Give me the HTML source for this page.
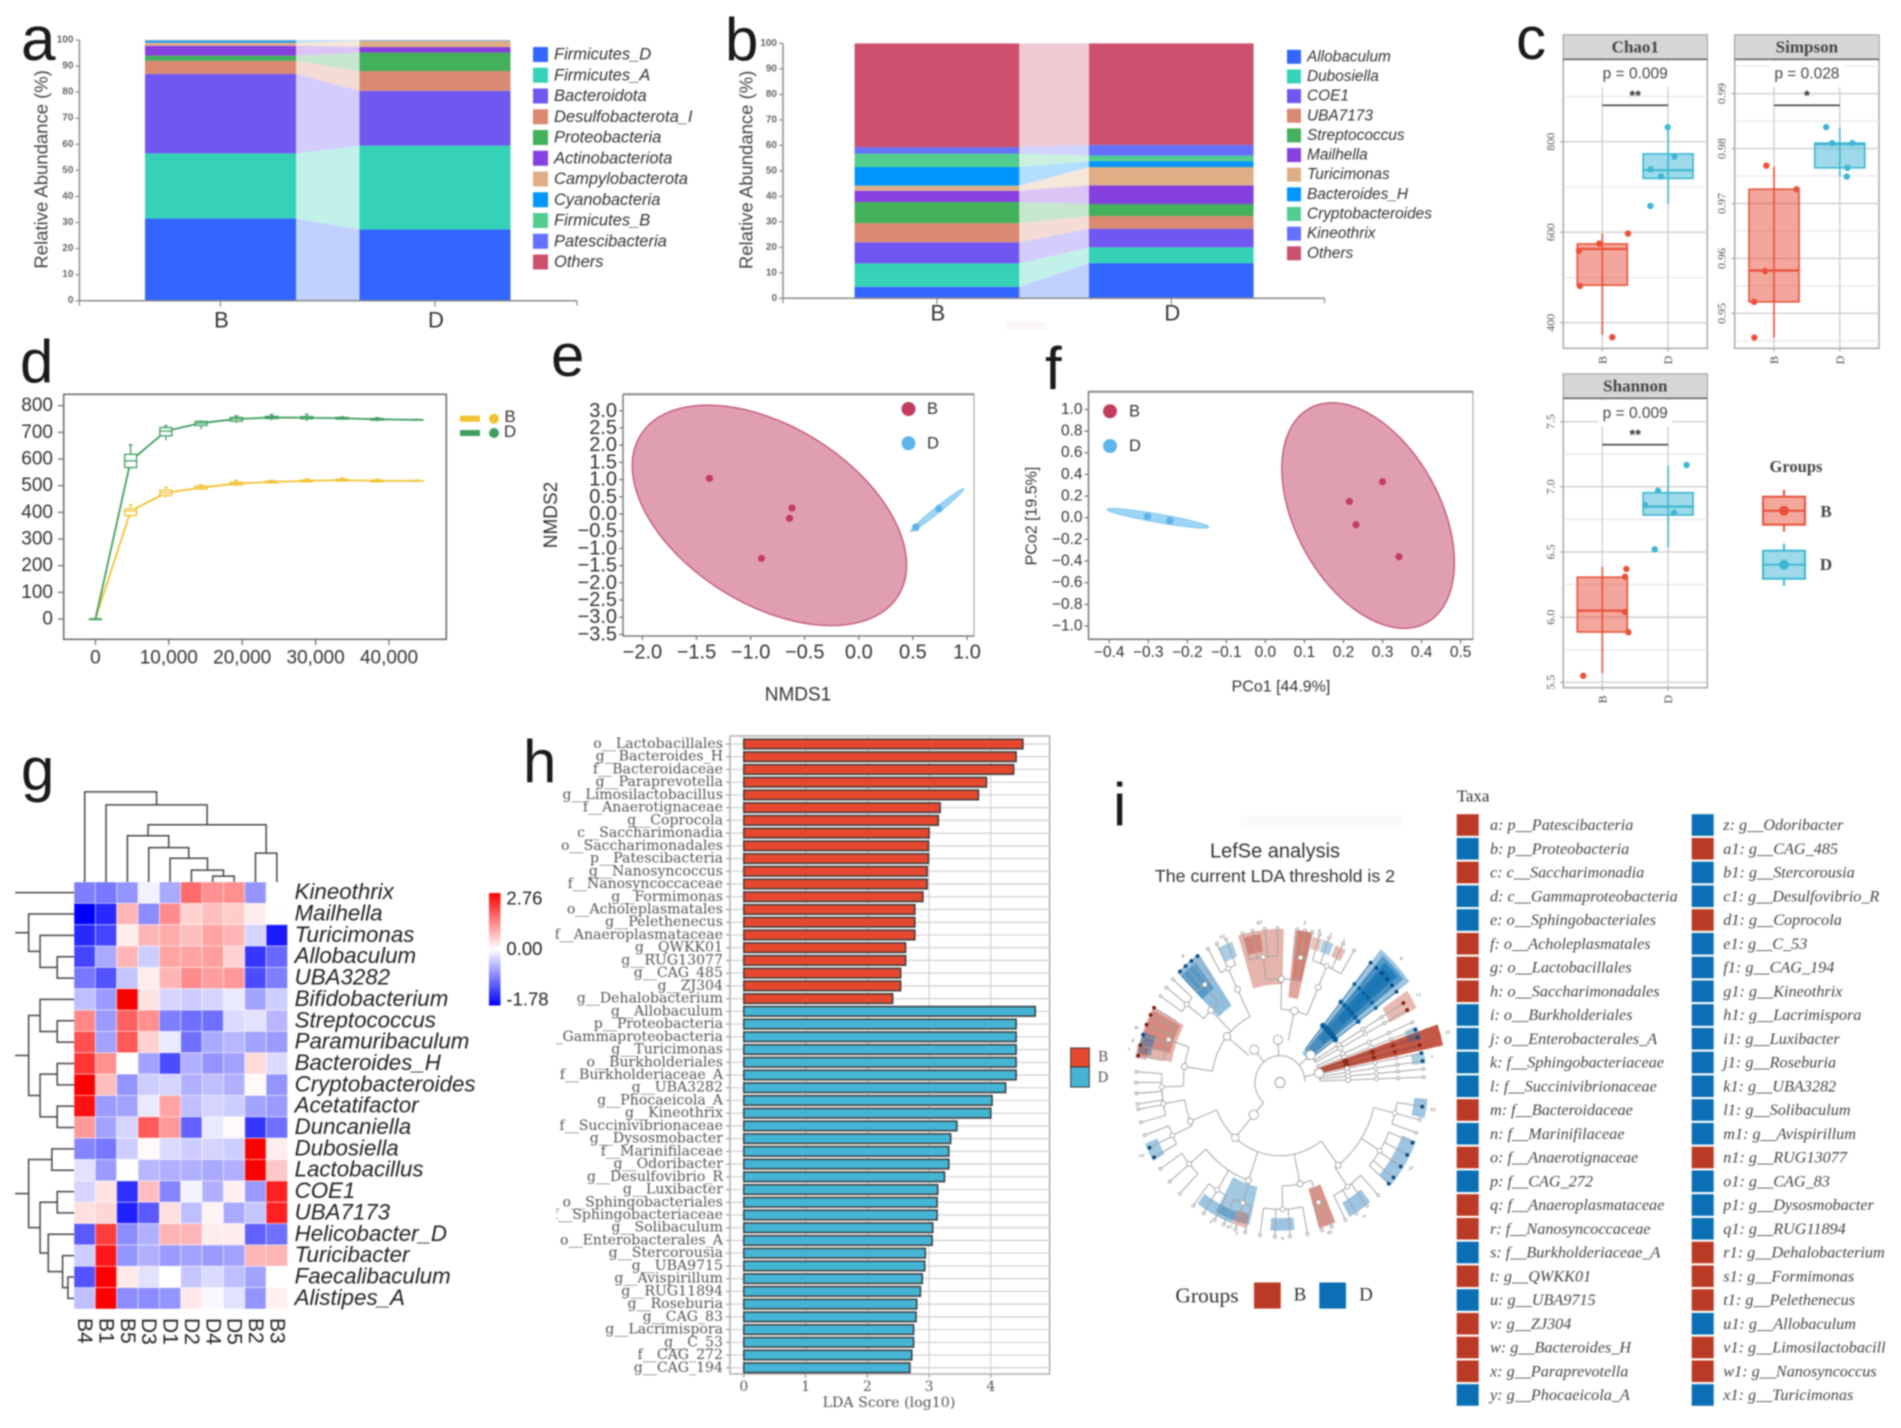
<!DOCTYPE html>
<html lang="en">
<head>
<meta charset="utf-8">
<title>Microbiome composition figure</title>
<style>
html,body{margin:0;padding:0;background:#fff;width:1901px;height:1428px;overflow:hidden}
svg{display:block;filter:blur(.7px)}
text{font-family:"Liberation Sans",sans-serif}
.panel-letter{font-size:60px;fill:#1a1a1a}
</style>
</head>
<body>
<svg id="fig" xmlns="http://www.w3.org/2000/svg" width="1901" height="1428" viewBox="0 0 1901 1428">
<defs>
<linearGradient id="cbar" x1="0" y1="0" x2="0" y2="1">
<stop offset="0" stop-color="#ff0000"/><stop offset=".5" stop-color="#ffffff"/><stop offset="1" stop-color="#0000ff"/>
</linearGradient>
<clipPath id="clip-h"><rect x="556" y="730" width="180" height="650"/></clipPath>
<clipPath id="clip-taxa"><rect x="1440" y="790" width="445" height="630"/></clipPath>
</defs>
<rect width="1901" height="1428" fill="#fff"/>
<rect x="1006" y="322" width="41" height="8" fill="#fbf7f7"/>
<rect x="1240" y="815" width="163" height="12" fill="#fbfaf9"/>
<text class="panel-letter" x="21" y="60" style="font-size:62px">a</text>
<text class="panel-letter" x="725" y="60">b</text>
<text class="panel-letter" x="1516" y="59">c</text>
<text class="panel-letter" x="20" y="382">d</text>
<text class="panel-letter" x="551" y="376">e</text>
<text class="panel-letter" x="1045" y="389">f</text>
<text class="panel-letter" x="21" y="790">g</text>
<text class="panel-letter" x="523" y="782">h</text>
<text class="panel-letter" x="1113" y="825">i</text>
<g id="panel-a"></g>
<g id="panel-b"></g>
<g id="panel-c"></g>
<g id="panel-d"></g>
<g id="panel-e"></g>
<g id="panel-f"></g>
<g id="panel-g">
<rect x="489" y="893" width="11.5" height="112.5" fill="url(#cbar)"/>
</g>
<g id="panel-h"></g>
<g id="panel-i"></g>
<g id="panel-taxa" clip-path="url(#clip-taxa)"></g>
</svg>
<script>
/* ---------- panel a data ---------- */
const stackColors = ['#3366ff','#36d2b8','#7057f0','#d98a70','#43b05c','#8740e0','#dfae85','#0096ff','#52cc8f','#6670ff','#cc506d'];
const stackCats = ['B','D'];
const stackTicks = [0,10,20,30,40,50,60,70,80,90,100];
const aTaxa = ['Firmicutes_D','Firmicutes_A','Bacteroidota','Desulfobacterota_I','Proteobacteria','Actinobacteriota','Campylobacterota','Cyanobacteria','Firmicutes_B','Patescibacteria','Others'];
const aB = [31.5,25,30.5,5,2,3.8,1.2,0.7,0.1,0.1,0.1];
const aD = [27.3,32.2,21,7.6,7.1,2.1,2.4,0.1,0.1,0.1,0.0];
/* ---------- panel b data ---------- */
const bTaxa = ['Allobaculum','Dubosiella','COE1','UBA7173','Streptococcus','Mailhella','Turicimonas','Bacteroides_H','Cryptobacteroides','Kineothrix','Others'];
const bB = [4.5,9.2,8.3,7.5,8.3,4.4,2,7.3,5.3,2.5,40.7];
const bD = [13.8,6.2,7.3,5,4.7,7.3,7.2,2.3,2.2,4.2,39.8];
/* ---------- panel c data: [q1, median, q3, lowWhisker, highWhisker] ---------- */
const chaoBoxB = [483,563,574,373,597];
const chaoBoxD = [719,737,773,662,832];
const chaoPtsB = [597,575,559,481,368];
const chaoPtsD = [832,767,739,723,658];
const chaoJitB = [0.39,-0.046,-0.355,-0.34,0.152];
const chaoJitD = [0.995,1.096,0.736,0.893,0.731];
const chaoTicks = [400,600,800];
const simpBoxB = [0.9521,0.9578,0.9726,0.9456,0.9767];
const simpBoxD = [0.9765,0.9808,0.981,0.9749,0.9839];
const simpPtsB = [0.9769,0.9726,0.9577,0.9521,0.9456];
const simpPtsD = [0.9839,0.981,0.981,0.9765,0.9749];
const simpJitB = [-0.116,0.343,-0.136,-0.303,-0.298];
const simpJitD = [0.793,0.884,1.192,1.116,1.106];
const simpTicks = [0.95,0.96,0.97,0.98,0.99];
const shanBoxB = [5.886,6.05,6.306,5.57,6.387];
const shanBoxD = [6.784,6.848,6.955,6.536,7.162];
const shanPtsB = [6.37,6.31,6.04,5.884,5.55];
const shanPtsD = [7.167,6.97,6.86,6.8,6.52];
const shanJitB = [0.365,0.345,0.345,0.396,-0.29];
const shanJitD = [1.28,0.848,0.65,1.09,0.797];
const shanTicks = [5.5,6,6.5,7,7.5];
/* ---------- panel d data ---------- */
const rareDepth = [0,4800,9600,14400,19200,24000,28800,33600,38400,43800];
const rareBMed = [0,405,473,493,508,514,518,521,518,518];
const rareBQ1 = [0,388,463,488,503,511,515,518,515,517];
const rareBQ3 = [0,413,483,499,513,517,521,524,521,519];
const rareBLo = [0,384,456,483,498,508,511,514,511,515];
const rareBHi = [0,428,494,503,520,520,525,529,524,521];
const rareDMed = [0,593,705,735,750,756,755,753,749,747];
const rareDQ1 = [0,568,687,726,742,752,751,750,746,746];
const rareDQ3 = [0,618,718,741,756,760,759,756,752,748];
const rareDLo = [0,565,670,712,735,745,742,749,742,745];
const rareDHi = [0,653,725,742,762,767,768,758,755,749];
const rareXTicks = [0,10000,20000,30000,40000];
const rareYTicks = [0,100,200,300,400,500,600,700,800];
/* ---------- panel e data ---------- */
const nmdsBx = [-1.38,-0.617,-0.64,-0.9];
const nmdsBy = [1.037,0.174,-0.126,-1.29];
const nmdsDx = [0.74,0.526];
const nmdsDy = [0.155,-0.388];
const nmdsXTicks = [-2,-1.5,-1,-0.5,0,0.5,1];
const nmdsYTicks = [3,2.5,2,1.5,1,0.5,0,-0.5,-1,-1.5,-2,-2.5,-3,-3.5];
/* ellipse: centre x, centre y, half-extent x, half-extent y, correlation */
const nmdsEllB = [-0.826,-0.04,1.268,3.206,-0.45];
const nmdsEllD = [0.724,0.11,0.245,0.62,0.985];
/* ---------- panel f data ---------- */
const pcoBx = [0.30,0.215,0.232,0.342];
const pcoBy = [0.332,0.15,-0.065,-0.36];
const pcoDx = [-0.302,-0.245];
const pcoDy = [0.01,-0.028];
const pcoXTicks = [-0.4,-0.3,-0.2,-0.1,0,0.1,0.2,0.3,0.4,0.5];
const pcoYTicks = [1,0.8,0.6,0.4,0.2,0,-0.2,-0.4,-0.6,-0.8,-1];
const pcoEllB = [0.263,0.02,0.221,1.0415,-0.417];
const pcoEllD = [-0.275,-0.005,0.13,0.09,-0.9];
/* ---------- panel g data ---------- */
const heatCols = ['B4','B1','B5','D3','D1','D2','D4','D5','B2','B3'];
const heatRows = ['Kineothrix','Mailhella','Turicimonas','Allobaculum','UBA3282','Bifidobacterium','Streptococcus','Paramuribaculum','Bacteroides_H','Cryptobacteroides','Acetatifactor','Duncaniella','Dubosiella','Lactobacillus','COE1','UBA7173','Helicobacter_D','Turicibacter','Faecalibaculum','Alistipes_A'];
const heatVals = [
[-0.9,-0.95,-0.75,-0.1,-0.6,1.6,1.2,1.2,-0.75,0.0],
[-1.78,-1.5,0.8,-0.8,1.25,0.5,0.7,0.55,0.2,0.02],
[-1.5,-1.3,0.2,0.8,0.9,0.7,1.0,0.8,-0.3,-1.6],
[-1.3,-0.6,0.8,-0.35,1.0,1.0,1.05,0.5,-1.4,-1.05],
[-0.95,-1.2,-0.4,0.2,0.8,1.25,1.05,1.1,-1.25,-0.9],
[-0.45,-0.7,2.76,0.3,-0.3,-0.35,-0.3,-0.15,-0.65,-0.35],
[1.3,-0.7,1.7,1.2,-0.9,-1.0,-1.0,-0.25,-0.2,-0.5],
[1.9,-0.65,1.8,0.5,-0.15,-1.0,-0.6,-0.5,-0.65,-0.7],
[2.2,1.2,0.0,-0.65,-1.25,-0.55,-0.75,-0.65,0.4,-0.25],
[2.76,0.7,-0.75,-0.35,-0.3,-0.55,-0.45,-0.55,0.06,-0.75],
[2.6,-0.7,-0.65,-0.15,1.0,-0.45,-0.3,-0.35,-0.65,-0.7],
[1.1,-0.65,-0.3,1.8,1.1,-1.1,-0.15,0.05,-1.4,-1.0],
[-0.85,-0.95,-0.35,0.05,-0.25,-0.35,-0.3,-0.35,2.76,0.2],
[-0.2,-0.7,0.0,-0.5,-0.55,-0.55,-0.6,-0.55,2.76,0.6],
[-0.3,0.3,-1.45,0.7,-0.85,-0.08,-0.55,0.15,-0.7,2.4],
[0.35,0.45,-1.55,-1.15,0.35,-0.45,0.12,-0.6,-0.4,2.4],
[-1.15,2.1,-0.8,-0.55,0.8,0.8,0.2,0.2,-1.1,-1.0],
[-0.35,2.5,-0.75,-0.55,-0.7,-0.65,-0.7,-0.65,0.8,0.8],
[-1.2,2.76,0.25,-0.2,0.0,-0.4,-0.25,-0.45,-0.65,0.0],
[-0.45,2.76,-0.8,-0.8,-0.75,0.25,-0.05,-0.2,-0.75,0.15]
];
/* dendrograms: [merge height, left child, right child]; leaves are indices */
const colTree = [228,0,[195,1,[145,[117,2,[87,3,[60,4,[30,5,[15,6,7]]]]],[73,8,9]]]];
const rowTrees = [0,[127,1,[95,2,[47,3,4]]],[127,[95,5,[47,6,7]],[95,[47,8,9],[47,10,11]]],[127,[62,12,13],[95,[47,14,15],[72,16,[32,17,[17,18,19]]]]]];
/* ---------- panel h data ---------- */
const ldaLabelsB = ['o__Lactobacillales','g__Bacteroides_H','f__Bacteroidaceae','g__Paraprevotella','g__Limosilactobacillus','f__Anaerotignaceae','g__Coprocola','c__Saccharimonadia','o__Saccharimonadales','p__Patescibacteria','g__Nanosyncoccus','f__Nanosyncoccaceae','g__Formimonas','o__Acholeplasmatales','g__Pelethenecus','f__Anaeroplasmataceae','g__QWKK01','g__RUG13077','g__CAG_485','g__ZJ304','g__Dehalobacterium'];
const ldaValuesB = [4.52,4.41,4.37,3.93,3.80,3.18,3.15,3.0,2.99,2.99,2.97,2.97,2.90,2.77,2.77,2.77,2.62,2.62,2.54,2.54,2.41];
const ldaLabelsD = ['g__Allobaculum','p__Proteobacteria','c__Gammaproteobacteria','g__Turicimonas','o__Burkholderiales','f__Burkholderiaceae_A','g__UBA3282','g__Phocaeicola_A','g__Kineothrix','f__Succinivibrionaceae','g__Dysosmobacter','f__Marinifilaceae','g__Odoribacter','g__Desulfovibrio_R','g__Luxibacter','o__Sphingobacteriales','f__Sphingobacteriaceae','g__Solibaculum','o__Enterobacterales_A','g__Stercorousia','g__UBA9715','g__Avispirillum','g__RUG11894','g__Roseburia','g__CAG_83','g__Lacrimispora','g__C_53','f__CAG_272','g__CAG_194'];
const ldaValuesD = [4.72,4.41,4.41,4.41,4.41,4.41,4.24,4.02,4.0,3.45,3.35,3.32,3.32,3.25,3.14,3.13,3.13,3.06,3.05,2.94,2.93,2.89,2.86,2.80,2.79,2.75,2.75,2.72,2.69];
const ldaTicks = [0,1,2,3,4];
/* ---------- panel i data ---------- */
/* leaf angles in degrees clockwise from north, nested by taxonomic level */
const cladeLeft = {a:-40,c:[[[[-98,-94,-90,-86],[-80,-76,-72,-68,-64,-61]],[[-56,-52,-48],[-44,-41,-38,-35]],[[-30,-26,-22]]]]};
const cladeTop = {a:-3,c:[[[[-15,-11,-6,-1],[7,10,13]],[[16,20,26,31]]]]};
const cladeFanA = [39,42,45,48,51,54,59,62];
const cladeFanB = [67,70,73,76,79,82,85,88];
const cladeBottom = {a:221,d:1,c:[{a:143,d:2,c:[[99,104,109],[113,118,123,128,131],[137,143,148,153]]},{a:168,d:2,c:[[159,163],[169,176,182,188]]},{a:199,d:2,c:[[194,198,203],[207,212,217],[224,230,236]]},{a:248,d:2,c:[[241,245,250],[255,260,266]]}]};
/* highlighted clades: start angle, end angle, inner ring, outer ring, group, strength, tag */
const cladeHighlights = [
[39,54,105,480,'D',.4,'b'],[41,52,130,470,'D',.5,''],[43,50,170,460,'D',.6,''],[44,49,250,445,'D',.6,''],
[71,78,110,500,'B',.85,'v1'],[56,63,370,460,'B',.35,'c1'],[69,74,400,440,'D',.35,'l'],[79,83,400,440,'D',.35,'s'],
[-17,1.5,275,430,'B',.38,'g1'],[-15,-8,370,420,'B',.4,''],[6,13,240,430,'B',.45,'f'],[7,13,290,430,'B',.35,''],
[13.5,17.5,385,420,'B',.3,'a'],[18,22.5,385,420,'D',.35,'i'],[23.5,28,385,420,'B',.35,'j'],
[-26,-20,375,420,'D',.35,'e1'],[-45,-34,260,435,'D',.45,'k'],[-45,-37,330,420,'D',.45,''],
[-80,-61,330,435,'B',.38,'m'],[-76,-62,340,430,'B',.35,''],[-79,-71,395,435,'D',.45,'q'],[-81,-76,405,440,'B',.35,'t'],
[96,103,405,445,'D',.4,'k1'],[112,131,395,440,'D',.4,'j1'],[141,151,385,430,'D',.4,'n'],[157,164,310,425,'B',.55,'d1'],
[174,184,380,415,'D',.4,'u'],[193,208,300,410,'D',.38,'p1'],[194,200,380,420,'B',.35,'y'],[200,216,385,420,'D',.4,'z'],[240,247,400,440,'D',.38,'o1']
];
/* ---------- taxa legend data ---------- */
const taxaCol1 = ['a: p__Patescibacteria','b: p__Proteobacteria','c: c__Saccharimonadia','d: c__Gammaproteobacteria','e: o__Sphingobacteriales','f: o__Acholeplasmatales','g: o__Lactobacillales','h: o__Saccharimonadales','i: o__Burkholderiales','j: o__Enterobacterales_A','k: f__Sphingobacteriaceae','l: f__Succinivibrionaceae','m: f__Bacteroidaceae','n: f__Marinifilaceae','o: f__Anaerotignaceae','p: f__CAG_272','q: f__Anaeroplasmataceae','r: f__Nanosyncoccaceae','s: f__Burkholderiaceae_A','t: g__QWKK01','u: g__UBA9715','v: g__ZJ304','w: g__Bacteroides_H','x: g__Paraprevotella','y: g__Phocaeicola_A'];
const taxaCol1Group = 'BDBDDBBBDDDDBDBDBBDBDBBBD';
const taxaCol2 = ['z: g__Odoribacter','a1: g__CAG_485','b1: g__Stercorousia','c1: g__Desulfovibrio_R','d1: g__Coprocola','e1: g__C_53','f1: g__CAG_194','g1: g__Kineothrix','h1: g__Lacrimispora','i1: g__Luxibacter','j1: g__Roseburia','k1: g__UBA3282','l1: g__Solibaculum','m1: g__Avispirillum','n1: g__RUG13077','o1: g__CAG_83','p1: g__Dysosmobacter','q1: g__RUG11894','r1: g__Dehalobacterium','s1: g__Formimonas','t1: g__Pelethenecus','u1: g__Allobaculum','v1: g__Limosilactobacillus','w1: g__Nanosyncoccus','x1: g__Turicimonas'];
const taxaCol2Group = 'DBDDBDDDDDDDDDBDDDBBBDBBD';

/* ---------- primitives ---------- */
const NS = 'http://www.w3.org/2000/svg';
const SERIF = '"Liberation Serif",serif';
const DJSERIF = '"DejaVu Serif","Liberation Serif",serif';
function $(id){return document.getElementById(id);}
function shape(p,name,tag,attrs){
  const e = document.createElementNS(NS,tag);
  for(const k in attrs) e.setAttribute(k,attrs[k]);
  
  
  p.appendChild(e);
  return e;
}
function line(p,name,x1,y1,x2,y2,stroke,w){
  return shape(p,name,'line',{x1,y1,x2,y2,stroke,'stroke-width':w});
}
function label(p,name,x,y,s,size,o){
  o = o || {};
  const a = {x,y,'font-size':size,fill:o.fill||'#333','text-anchor':o.anchor||'middle','dominant-baseline':'central'};
  if(o.family) a.style = 'font-family:'+o.family;
  if(o.italic) a['font-style'] = 'italic';
  if(o.weight) a['font-weight'] = o.weight;
  if(o.rotate) a.transform = 'rotate('+o.rotate+' '+x+' '+y+')';
  if(o.clip) a['clip-path'] = 'url(#'+o.clip+')';
  const t = shape(p,name,'text',a);
  t.textContent = s;
  return t;
}

/* ---------- stacked bars ---------- */
function drawStack(g,prefix,taxa,vals,geo){
  const y = v => geo.y0 - v*(geo.y0-geo.y100)/100;
  const bx = i => geo.left + i*geo.step;
  /* ribbons */
  let cb = 0, cd = 0;
  taxa.forEach((t,i)=>{
    const x1 = bx(0)+geo.w, x2 = bx(1);
    const pts = [[x1,y(cb)],[x2,y(cd)],[x2,y(cd+vals[1][i])],[x1,y(cb+vals[0][i])]].map(q=>q.join(',')).join(' ');
    shape(g,prefix+'-ribbon-'+t,'polygon',{points:pts,fill:stackColors[i],opacity:.3});
    cb += vals[0][i]; cd += vals[1][i];
  });
  vals.forEach((series,c)=>{
    let cum = 0;
    series.forEach((v,i)=>{
      shape(g,prefix+'-bar-'+stackCats[c]+'-'+taxa[i],'rect',{x:bx(c),y:y(cum+v),width:geo.w,height:Math.max(0,y(cum)-y(cum+v)),fill:stackColors[i]});
      cum += v;
    });
  });
  line(g,prefix+'-y-axis',geo.ax,geo.y100,geo.ax,geo.y0,'#8a8a8a',1.5);
  line(g,prefix+'-x-axis',geo.ax,geo.y0,geo.axEnd,geo.y0,'#8a8a8a',1.5);
  line(g,prefix+'-x-axis-end-tick',geo.axEnd,geo.y0,geo.axEnd,geo.y0+5,'#8a8a8a',1.2);
  line(g,prefix+'-x-axis-start-tick',geo.ax,geo.y0,geo.ax,geo.y0+5,'#8a8a8a',1.2);
  stackTicks.forEach(t=>{
    line(g,prefix+'-y-tick-'+t,geo.ax-4,y(t),geo.ax,y(t),'#8a8a8a',1.2);
    label(g,prefix+'-y-tick-label-'+t,geo.ax-6,y(t),String(t),10,{anchor:'end',fill:'#666',weight:'bold'});
  });
  stackCats.forEach((c,i)=>{
    const tx = bx(i)+geo.w/2;
    line(g,prefix+'-x-tick-'+c,tx,geo.y0,tx,geo.y0+6,'#8a8a8a',1.2);
    label(g,prefix+'-x-tick-label-'+c,tx+1,geo.xLab,c,22,{fill:'#333'});
  });
  label(g,prefix+'-y-axis-title',geo.titleX,(geo.y0+geo.y100)/2-1,'Relative Abundance (%)',18.5,{rotate:-90,fill:'#444'});
  taxa.forEach((t,i)=>{
    const ly = geo.legY + i*geo.legStep;
    shape(g,prefix+'-legend-swatch-'+t,'rect',{x:geo.legX,y:ly-geo.swH/2,width:geo.swW,height:geo.swH,fill:stackColors[i]});
    label(g,prefix+'-legend-label-'+t,geo.legX+geo.swW+6,ly,t,geo.legFont,{anchor:'start',italic:true});
  });
}
drawStack($('panel-a'),'a',aTaxa,[aB,aD],{y0:300.7,y100:40,left:145,step:214.5,w:151,ax:79.4,axEnd:577,xLab:320,titleX:41,legX:533,legY:54.5,legStep:20.75,swW:15,swH:15,legFont:16.5});
drawStack($('panel-b'),'b',bTaxa,[bB,bD],{y0:298.3,y100:43.4,left:854.6,step:234.4,w:164.6,ax:783,axEnd:1324.5,xLab:313,titleX:746,legX:1287,legY:56.8,legStep:19.65,swW:14,swH:14,legFont:15.4});

/* ---------- boxplots ---------- */
const RED = '#e8503a', BLUE = '#3eb6d3';
function drawBoxPanel(g,key,cfg,boxB,ptsB,jitB,boxD,ptsD,jitD){
  const xOf = u => cfg.xB + u*65.8;
  const yOf = cfg.yOf;
  /* strip & frame */
  shape(g,key+'-panel-frame','rect',{x:cfg.x0,y:cfg.stripTop,width:cfg.x1-cfg.x0,height:cfg.bottom-cfg.stripTop,fill:'#fff',stroke:'#a8a8a8','stroke-width':1.5});
  cfg.minor.forEach(v=>line(g,key+'-minor-grid-'+v,cfg.x0,yOf(v),cfg.x1,yOf(v),'#e6e6e6',1.2));
  cfg.ticks.forEach(v=>line(g,key+'-major-grid-'+v,cfg.x0,yOf(v),cfg.x1,yOf(v),'#cfcfcf',1.4));
  [0,1].forEach(u=>line(g,key+'-vertical-grid-'+u,xOf(u),cfg.stripBottom,xOf(u),cfg.bottom,'#cfcfcf',1.4));
  shape(g,key+'-p-value-background','rect',{x:xOf(.5)-37,y:cfg.pY-13,width:74,height:26,fill:'#fff'});
  shape(g,key+'-strip','rect',{x:cfg.x0,y:cfg.stripTop,width:cfg.x1-cfg.x0,height:cfg.stripBottom-cfg.stripTop,fill:'#d6d6d6',stroke:'#a8a8a8','stroke-width':1});
  line(g,key+'-strip-underline',cfg.x0,cfg.stripBottom,cfg.x1,cfg.stripBottom,'#666',1.6);
  label(g,key+'-strip-title',(cfg.x0+cfg.x1)/2,(cfg.stripTop+cfg.stripBottom)/2,cfg.title,17,{family:SERIF,weight:'bold',fill:'#444'});
  label(g,key+'-p-value',xOf(.5),cfg.pY,cfg.p,15.5,{fill:'#444'});
  label(g,key+'-significance-stars',xOf(.5),cfg.starY+3,cfg.stars,15,{fill:'#333',weight:'bold'});
  line(g,key+'-significance-bar',xOf(0),cfg.barY,xOf(1),cfg.barY,'#444',1.6);
  const draw = (name,u,box,pts,jit,col)=>{
    const [q1,med,q3,lo,hi] = box, cx = xOf(u);
    line(g,key+'-whisker-'+name,cx,yOf(lo),cx,yOf(hi),col,1.6);
    shape(g,key+'-box-'+name,'rect',{x:cx-25,y:yOf(q3),width:50,height:yOf(q1)-yOf(q3),fill:col,'fill-opacity':.5,stroke:col,'stroke-width':1.6});
    line(g,key+'-median-'+name,cx-25,yOf(med),cx+25,yOf(med),col,2.2);
    pts.forEach((v,i)=>shape(g,key+'-point-'+name+'-'+i,'circle',{cx:xOf(jit[i]),cy:yOf(v),r:3.2,fill:col}));
  };
  draw('B',0,boxB,ptsB,jitB,RED);
  draw('D',1,boxD,ptsD,jitD,BLUE);
  cfg.ticks.forEach(v=>{
    line(g,key+'-y-tick-'+v,cfg.x0-3,yOf(v),cfg.x0,yOf(v),'#888',1);
    label(g,key+'-y-tick-label-'+v,cfg.x0-13,yOf(v),cfg.fmt(v),12,{rotate:-90,family:SERIF,fill:'#555'});
  });
  ['B','D'].forEach((c,u)=>{
    line(g,key+'-x-tick-'+c,xOf(u),cfg.bottom,xOf(u),cfg.bottom+3,'#888',1);
    label(g,key+'-x-tick-label-'+c,xOf(u),cfg.xLab,c,12,{rotate:-90,family:SERIF,fill:'#444'});
  });
}
const cg = $('panel-c');
drawBoxPanel(cg,'chao1',{title:'Chao1',x0:1563.3,x1:1707.3,stripTop:35,stripBottom:59.3,bottom:348.3,xB:1602.3,yOf:v=>141.7+(800-v)*0.4525,ticks:chaoTicks,minor:[500,700,900],fmt:v=>String(v),p:'p = 0.009',stars:'**',pY:74,starY:93,barY:105.3,xLab:360},chaoBoxB,chaoPtsB,chaoJitB,chaoBoxD,chaoPtsD,chaoJitD);
drawBoxPanel(cg,'simpson',{title:'Simpson',x0:1734.7,x1:1879,stripTop:35,stripBottom:59.3,bottom:348.3,xB:1774,yOf:v=>93.67+(0.99-v)*5492,ticks:simpTicks,minor:[0.945,0.955,0.965,0.975,0.985,0.995],fmt:v=>v.toFixed(2),p:'p = 0.028',stars:'*',pY:74,starY:93,barY:105.3,xLab:360},simpBoxB,simpPtsB,simpJitB,simpBoxD,simpPtsD,simpJitD);
drawBoxPanel(cg,'shannon',{title:'Shannon',x0:1563.3,x1:1707.3,stripTop:374,stripBottom:398.3,bottom:687.7,xB:1602.3,yOf:v=>421.67+(7.5-v)*130.3,ticks:shanTicks,minor:[5.75,6.25,6.75,7.25],fmt:v=>v.toFixed(1),p:'p = 0.009',stars:'**',pY:413.3,starY:432,barY:444.7,xLab:699.3},shanBoxB,shanPtsB,shanJitB,shanBoxD,shanPtsD,shanJitD);
/* groups legend */
label(cg,'groups-legend-title',1796,466.7,'Groups',16.5,{family:SERIF,weight:'bold',fill:'#444'});
[['B',RED,496.7,511.7],['D',BLUE,550.7,564.3]].forEach(([n,col,top,ly])=>{
  line(cg,'groups-legend-whisker-'+n,1784,top-7,1784,top+35,col,2);
  shape(cg,'groups-legend-box-'+n,'rect',{x:1763,y:top,width:42,height:28,fill:'#fff'});
  shape(cg,'groups-legend-box-fill-'+n,'rect',{x:1763,y:top,width:42,height:28,fill:col,'fill-opacity':.5,stroke:col,'stroke-width':2});
  line(cg,'groups-legend-median-'+n,1763,top+14,1805,top+14,col,2);
  shape(cg,'groups-legend-dot-'+n,'circle',{cx:1784,cy:top+14,r:5,fill:col});
  label(cg,'groups-legend-label-'+n,1826,ly,n,17,{family:SERIF,weight:'bold',fill:'#444'});
});

/* ---------- panel d ---------- */
(function(){
  const g = $('panel-d');
  const sx = v => 95.4 + v*0.00734;
  const sy = v => 619 - v*0.2666;
  shape(g,'rarefaction-plot-frame','rect',{x:63.7,y:394.3,width:382.6,height:245,fill:'#fff',stroke:'#666','stroke-width':1.5});
  rareYTicks.forEach(t=>{
    line(g,'rarefaction-y-tick-'+t,57.8,sy(t),63.7,sy(t),'#666',1.2);
    label(g,'rarefaction-y-tick-label-'+t,53,sy(t),String(t),19,{anchor:'end'});
  });
  rareXTicks.forEach(t=>{
    line(g,'rarefaction-x-tick-'+t,sx(t),639.3,sx(t),645,'#666',1.2);
    label(g,'rarefaction-x-tick-label-'+t,sx(t),658,t.toLocaleString('en-US'),19);
  });
  const series = (name,col,med,q1,q3,lo,hi)=>{
    shape(g,'rarefaction-line-'+name,'polyline',{points:rareDepth.map((d,i)=>sx(d)+','+sy(med[i])).join(' '),fill:'none',stroke:col,'stroke-width':1.8});
    rareDepth.forEach((d,i)=>{
      const x = sx(d);
      line(g,'rarefaction-whisker-'+name+'-'+d,x,sy(lo[i]),x,sy(hi[i]),col,1.3);
      line(g,'rarefaction-cap-'+name+'-'+d,x-2,sy(hi[i]),x+2,sy(hi[i]),col,1.3);
      shape(g,'rarefaction-box-'+name+'-'+d,'rect',{x:x-6,y:sy(q3[i]),width:12,height:Math.max(.5,sy(q1[i])-sy(q3[i])),fill:'#fff','fill-opacity':d===0?0:1,stroke:col,'stroke-width':1.3});
      line(g,'rarefaction-median-'+name+'-'+d,x-6,sy(med[i]),x+6,sy(med[i]),col,1.3);
    });
  };
  series('B','#f2c230',rareBMed,rareBQ1,rareBQ3,rareBLo,rareBHi);
  series('D','#3f9e5f',rareDMed,rareDQ1,rareDQ3,rareDLo,rareDHi);
  [['B','#f2c230',418.7,416.7],['D','#3f9e5f',433,431.5]].forEach(([n,col,y,ly])=>{
    shape(g,'rarefaction-legend-line-'+n,'rect',{x:460,y:y-3,width:20,height:6,fill:col});
    shape(g,'rarefaction-legend-dot-'+n,'circle',{cx:494,cy:y,r:5,fill:col});
    label(g,'rarefaction-legend-label-'+n,510,ly,n,17);
  });
})();

/* ---------- ordination panels ---------- */
function ellipsePath(e,sx,sy){
  const [cx,cy,rx,ry,rho] = e, k = Math.sqrt(1-rho*rho);
  let d = '';
  for(let i=0;i<=90;i++){
    const t = i/90*2*Math.PI;
    d += (i?'L':'M')+sx(cx+rx*Math.cos(t)).toFixed(2)+' '+sy(cy+ry*(rho*Math.cos(t)+k*Math.sin(t))).toFixed(2);
  }
  return d+'Z';
}
function fmtNeg(v,dp){return (v<0?'\u2212':'')+Math.abs(v).toFixed(dp);}
function drawOrd(g,key,c){
  shape(g,key+'-plot-frame','rect',{x:c.l,y:c.t,width:c.r-c.l,height:c.b-c.t,fill:'#fff',stroke:'#999','stroke-width':1});
  line(g,key+'-frame-top',c.l,c.t,c.r,c.t,'#8a8a8a',2);
  line(g,key+'-frame-left',c.l,c.t,c.l,c.b,'#666',1.3);
  line(g,key+'-frame-bottom',c.l,c.b,c.r,c.b,'#666',1.3);
  shape(g,key+'-ellipse-B','path',{d:ellipsePath(c.ellB,c.sx,c.sy),fill:'#e09fb0',stroke:'#c0506e','stroke-width':1.3});
  shape(g,key+'-ellipse-D','path',{d:ellipsePath(c.ellD,c.sx,c.sy),fill:'#9ed5f5',stroke:'#7cc4ee','stroke-width':1});
  c.bx.forEach((v,i)=>shape(g,key+'-point-B-'+i,'circle',{cx:c.sx(v),cy:c.sy(c.by[i]),r:3.6,fill:'#c23c5f'}));
  c.dx.forEach((v,i)=>shape(g,key+'-point-D-'+i,'circle',{cx:c.sx(v),cy:c.sy(c.dy[i]),r:3.8,fill:'#5cb4ea'}));
  c.yt.forEach(t=>{
    line(g,key+'-y-tick-'+t,c.l-4,c.sy(t),c.l,c.sy(t),'#666',1.1);
    label(g,key+'-y-tick-label-'+t,c.l-6,c.sy(t),fmtNeg(t,1),c.font,{anchor:'end',fill:'#333'});
  });
  c.xt.forEach(t=>{
    line(g,key+'-x-tick-'+t,c.sx(t),c.b,c.sx(t),c.b+4,'#666',1.1);
    label(g,key+'-x-tick-label-'+t,c.sx(t),652.7,fmtNeg(t,1),c.font,{fill:'#333'});
  });
  label(g,key+'-y-axis-title',c.yTitle[0],c.yTitle[1],c.yTitle[2],c.tFont,{rotate:-90,fill:'#333'});
  label(g,key+'-x-axis-title',c.xTitle[0],c.xTitle[1],c.xTitle[2],c.tFont,{fill:'#333'});
  [['B','#c23c5f',c.leg[1],c.leg[3]],['D','#5cb4ea',c.leg[2],c.leg[3]]].forEach(([n,col,y,lx])=>{
    shape(g,key+'-legend-dot-'+n,'circle',{cx:c.leg[0],cy:y,r:7,fill:col});
    label(g,key+'-legend-label-'+n,lx,y,n,16.5,{anchor:'start',fill:'#333'});
  });
}
drawOrd($('panel-e'),'nmds',{l:623,r:974,t:394.3,b:636,sx:v=>858.8+v*108.2,sy:v=>514-v*34.4,ellB:nmdsEllB,ellD:nmdsEllD,bx:nmdsBx,by:nmdsBy,dx:nmdsDx,dy:nmdsDy,xt:nmdsXTicks,yt:nmdsYTicks,font:20,tFont:19,yTitle:[551.4,515,'NMDS2'],xTitle:[798,695,'NMDS1'],leg:[908.5,409,443.3,927]});
drawOrd($('panel-f'),'pcoa',{l:1088.5,r:1473,t:391.7,b:639.3,sx:v=>1265.4+v*390.5,sy:v=>517.7-v*108.3,ellB:pcoEllB,ellD:pcoEllD,bx:pcoBx,by:pcoBy,dx:pcoDx,dy:pcoDy,xt:pcoXTicks,yt:pcoYTicks,font:15.5,tFont:16,yTitle:[1032,516,'PCo2 [19.5%]'],xTitle:[1281,687,'PCo1 [44.9%]'],leg:[1110,411.3,446,1129]});

/* ---------- heatmap ---------- */
(function(){
  const g = $('panel-g');
  const L = 74, T = 882, C = 21.35, R = 21.35;
  const mix = (a,b,t)=>Math.round(a+(b-a)*t);
  const colour = v => {
    if(v>=0){const t=Math.min(1,v/2.76);return 'rgb(255,'+mix(255,0,t)+','+mix(255,0,t)+')';}
    const t=Math.min(1,-v/1.78);return 'rgb('+mix(255,0,t)+','+mix(255,0,t)+',255)';
  };
  heatVals.forEach((row,r)=>row.forEach((v,c)=>{
    shape(g,'heatmap-cell-'+heatRows[r]+'-'+heatCols[c],'rect',{x:L+c*C,y:T+r*R,width:C,height:R,fill:colour(v),stroke:'#ffffff','stroke-opacity':.55,'stroke-width':.8});
  }));
  heatRows.forEach((n,r)=>label(g,'heatmap-row-label-'+n,294.6,T+(r+.5)*R-1,n,22.3,{anchor:'start',italic:true,fill:'#222'}));
  heatCols.forEach((n,c)=>label(g,'heatmap-column-label-'+n,L+(c+.5)*C,1318,n,21,{anchor:'start',rotate:90,fill:'#222'}));
  label(g,'colorbar-max-label',506.4,898,'2.76',18.5,{anchor:'start',fill:'#222'});
  label(g,'colorbar-mid-label',506.4,948.7,'0.00',18.5,{anchor:'start',fill:'#222'});
  label(g,'colorbar-min-label',506.4,999,'-1.78',18.5,{anchor:'start',fill:'#222'});
  /* dendrograms */
  const tree = (node,place,name)=>{
    if(typeof node==='number') return {pos:node+.5,h:0};
    const a = tree(node[1],place,name), b = tree(node[2],place,name), h = node[0];
    const p = [place(a.pos,a.h),place(a.pos,h),place(b.pos,h),place(b.pos,b.h)];
    shape(g,name,'path',{d:'M'+p.map(q=>q.join(' ')).join('L'),fill:'none',stroke:'#444','stroke-width':1.5});
    return {pos:(a.pos+b.pos)/2,h};
  };
  tree(colTree,(pos,h)=>[L+pos*C,T-h/2.53],'column-dendrogram-branch');
  const rowPlace = (pos,h)=>[L-h/2.8,T+pos*R];
  rowTrees.forEach(t=>{
    const top = typeof t==='number' ? {pos:t+.5,h:0} : tree(t,rowPlace,'row-dendrogram-branch');
    const a = rowPlace(top.pos,top.h), b = rowPlace(top.pos,165);
    line(g,'row-dendrogram-root-stub',a[0],a[1],b[0],b[1],'#444',1.5);
  });
})();

/* ---------- LDA bars ---------- */
(function(){
  const g = $('panel-h');
  const sx = v => 743.8 + v*61.75;
  const rowY = i => 744 + i*12.73;
  const labels = ldaLabelsB.concat(ldaLabelsD);
  const values = ldaValuesB.concat(ldaValuesD);
  shape(g,'lda-plot-frame','rect',{x:730,y:736,width:319.6,height:638,fill:'#fff',stroke:'#b4b4b4','stroke-width':1.6});
  labels.forEach((n,i)=>line(g,'lda-row-grid-'+n,730,rowY(i),1049.6,rowY(i),'#cfcfcf',1.2));
  ldaTicks.forEach(t=>line(g,'lda-vertical-grid-'+t,sx(t),736,sx(t),1374,'#cfcfcf',1.2));
  labels.forEach((n,i)=>{
    const isB = i<ldaLabelsB.length;
    shape(g,'lda-bar-'+n,'rect',{x:sx(0),y:rowY(i)-4.8,width:sx(values[i])-sx(0),height:9.6,fill:isB?'#e5482f':'#45b5d6',stroke:'#3a3a3a','stroke-width':1.5});
    line(g,'lda-tick-'+n,726,rowY(i),730,rowY(i),'#888',1);
    label(g,'lda-label-'+n,723,rowY(i),n,14.1,{anchor:'end',family:DJSERIF,fill:'#555',clip:'clip-h'});
  });
  ldaTicks.forEach(t=>{
    line(g,'lda-x-tick-'+t,sx(t),1374,sx(t),1378,'#888',1);
    label(g,'lda-x-tick-label-'+t,sx(t),1387,String(t),14,{family:DJSERIF,fill:'#555'});
  });
  label(g,'lda-x-axis-title',889,1403,'LDA Score (log10)',14.2,{family:DJSERIF,fill:'#555'});
})();

/* ---------- cladogram ---------- */
(function(){
  const g = $('panel-i');
  const CB = '#bb3a25', CD = '#0a6fb4';
  const cx = 1280, cy = 1082.5, SX = 3, SY = 2.8;
  const rad = d => d*Math.PI/180;
  const pol = (a,r)=>[cx+r/SX*Math.sin(rad(a)),cy-r/SY*Math.cos(rad(a))];
  const arcD = (a1,a2,r)=>{
    const p = pol(a1,r), q = pol(a2,r);
    return 'M'+p.join(' ')+'A'+(r/SX)+' '+(r/SY)+' 0 '+(a2-a1>180?1:0)+' 1 '+q.join(' ');
  };
  label(g,'cladogram-title',1275,851.4,'LefSe analysis',20,{fill:'#333'});
  label(g,'cladogram-subtitle',1275,876,'The current LDA threshold is 2',17.8,{fill:'#333'});
  cladeHighlights.forEach((w,i)=>{
    const [a1,a2,r1,r2,grp,op,tag] = w;
    const p1 = pol(a1,r1), p2 = pol(a1,r2), p3 = pol(a2,r2), p4 = pol(a2,r1);
    shape(g,'clade-highlight-'+grp+'-'+i,'path',{d:'M'+p1.join(' ')+'L'+p2.join(' ')+'A'+(r2/SX)+' '+(r2/SY)+' 0 0 1 '+p3.join(' ')+'L'+p4.join(' ')+'A'+(r1/SX)+' '+(r1/SY)+' 0 0 0 '+p1.join(' ')+'Z',fill:grp==='B'?CB:CD,opacity:op});
    if(tag){
      const m = (a1+a2)/2, q = pol(m,r2+22);
      label(g,'clade-tag-'+tag,q[0],q[1],tag,5.5,{family:SERIF,fill:'#555',italic:true});
    }
  });
  const lines = shape(g,'cladogram-branches','g',{});
  const nodes = shape(g,'cladogram-nodes','g',{});
  const rings = [120,205,290,355], leafR = 432, sizes = [4.6,3.8,3,2.4];
  const BR = '#a4a4a4';
  const kids = n => Array.isArray(n) ? n : n.c;
  const angleOf = n => {
    if(typeof n==='number') return n;
    if(n.a!==undefined) return n.a;
    const c = kids(n);
    return c.reduce((s,k)=>s+angleOf(k),0)/c.length;
  };
  /* group of the highlight covering an angle at a given ring, if any */
  const highlightAt = (a,r)=>{
    let hit = null;
    cladeHighlights.forEach(w=>{ if(a>=w[0]&&a<=w[1]&&r>=w[2]&&r<=w[3]) hit = w[4]; });
    return hit;
  };
  const dot = (a,r,size,fill)=>{
    const p = pol(a,r);
    return shape(nodes,'cladogram-node','circle',{cx:p[0],cy:p[1],r:size,fill,stroke:fill==='#fff'?'#9a9a9a':fill,'stroke-width':.8});
  };
  const radial = (a,r1,r2,col)=>{
    const p = pol(a,r1), q = pol(a,r2);
    line(lines,'cladogram-branch',p[0],p[1],q[0],q[1],col||BR,1);
  };
  const draw = (n,depth,parentR)=>{
    if(typeof n==='number'){
      const deep = highlightAt(n,205);
      radial(n,parentR,leafR,deep?(deep==='B'?'#8e4a3c':'#3f78a4'):BR);
      for(let d=depth;d<rings.length;d++){
        const h = highlightAt(n,rings[d]);
        dot(n,rings[d],sizes[d]*.65,h?(h==='B'?'#8e2a18':'#0b5f9c'):'#fff');
      }
      const tip = highlightAt(n,leafR);
      dot(n,leafR,1.5,tip?(tip==='B'?'#7c1d10':'#08487a'):'#fff');
      return;
    }
    const level = (n.d!==undefined) ? n.d : depth;
    const a = angleOf(n), r = rings[level], c = kids(n);
    radial(a,parentR,r);
    for(let d=depth;d<level;d++) dot(a,rings[d],sizes[d],'#fff');
    const as = c.map(angleOf), lo = Math.min.apply(null,as), hi = Math.max.apply(null,as);
    if(hi>lo) shape(lines,'cladogram-arc','path',{d:arcD(lo,hi,r),fill:'none',stroke:BR,'stroke-width':1});
    dot(a,r,sizes[level],'#fff');
    c.forEach(k=>draw(k,level+1,r));
  };
  [cladeLeft,cladeTop,cladeFanA,cladeFanB,cladeBottom].forEach(n=>draw(n,0,75));
  shape(lines,'cladogram-root-arc','path',{d:arcD(-139,88,75),fill:'none',stroke:BR,'stroke-width':1});
  const root = pol(0,0);
  shape(nodes,'cladogram-root-node','circle',{cx:root[0],cy:root[1],r:5,fill:'#fff',stroke:'#9a9a9a','stroke-width':1});
  /* side legend */
  shape(g,'lda-legend-swatch-B','rect',{x:1070.7,y:1048,width:18.6,height:19,fill:'#e5482f',stroke:'#333','stroke-width':1});
  shape(g,'lda-legend-swatch-D','rect',{x:1070.7,y:1067,width:18.6,height:20,fill:'#45b5d6',stroke:'#333','stroke-width':1});
  label(g,'lda-legend-label-B',1103,1057.5,'B',14,{family:DJSERIF,fill:'#555'});
  label(g,'lda-legend-label-D',1103,1078,'D',14,{family:DJSERIF,fill:'#555'});
  /* bottom legend */
  label(g,'cladogram-groups-title',1207,1295.7,'Groups',21.5,{family:SERIF,fill:'#333'});
  shape(g,'cladogram-groups-swatch-B','rect',{x:1254,y:1282.5,width:26.7,height:26.1,fill:CB});
  label(g,'cladogram-groups-label-B',1300,1295,'B',19,{family:SERIF,fill:'#333'});
  shape(g,'cladogram-groups-swatch-D','rect',{x:1319.3,y:1282.5,width:26.7,height:26.1,fill:CD});
  label(g,'cladogram-groups-label-D',1366,1295,'D',19,{family:SERIF,fill:'#333'});
})();

/* ---------- taxa legend ---------- */
(function(){
  const g = $('panel-taxa');
  label(g,'taxa-title',1456.7,796,'Taxa',17,{anchor:'start',family:SERIF,fill:'#333'});
  const col = (names,groups,sw,tx)=>names.forEach((n,i)=>{
    const y = 825 + i*23.75;
    shape(g,'taxa-swatch-'+n,'rect',{x:sw,y:y-10.8,width:22,height:21.6,fill:groups[i]==='B'?'#bb3a25':'#0a6fb4'});
    label(g,'taxa-label-'+n,tx,y,n,16.2,{anchor:'start',italic:true,family:SERIF,fill:'#444'});
  });
  col(taxaCol1,taxaCol1Group,1456.7,1490);
  col(taxaCol2,taxaCol2Group,1691.7,1723.3);
})();
</script>
</body>
</html>
